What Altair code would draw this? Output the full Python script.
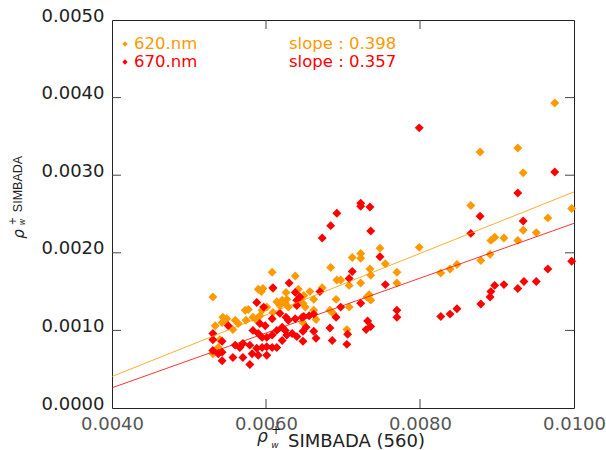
import altair as alt
import pandas as pd

# ---- data ----
orange_x = [0.00975, 0.00878, 0.00927, 0.00934, 0.00866, 0.00997, 0.00966, 0.00934, 0.00951, 0.00892,
            0.00897, 0.00909, 0.00927, 0.00891, 0.00879, 0.00848, 0.00839, 0.00827,
            0.00748, 0.00799, 0.00712, 0.00723, 0.00723, 0.00755, 0.00684, 0.00735, 0.00736, 0.00770,
            0.00692, 0.00697, 0.00723, 0.00708, 0.00770, 0.00673, 0.00657, 0.00649, 0.00662, 0.00691,
            0.00734, 0.00736, 0.00731, 0.00683, 0.00708, 0.00662, 0.00687, 0.00651, 0.00665, 0.00648,
            0.00705,
            0.00531, 0.00608, 0.00638, 0.00590, 0.00596, 0.00594, 0.00609, 0.00626, 0.00642, 0.00614,
            0.00621, 0.00627, 0.00618, 0.00625, 0.00629, 0.00609, 0.00601, 0.00595, 0.00592, 0.00583,
            0.00588, 0.00577, 0.00573, 0.00574, 0.00564, 0.00557, 0.00560, 0.00544, 0.00549, 0.00543,
            0.00534, 0.00538, 0.00531, 0.00540, 0.00644, 0.00648]
orange_y = [0.00393, 0.00330, 0.00335, 0.00303, 0.00261, 0.00257, 0.00245, 0.00229, 0.00226, 0.00216,
            0.00220, 0.00219, 0.00216, 0.00198, 0.00190, 0.00185, 0.00179, 0.00174,
            0.00206, 0.00207, 0.00194, 0.00199, 0.00193, 0.00186, 0.00181, 0.00179, 0.00171, 0.00175,
            0.00165, 0.00165, 0.00161, 0.00158, 0.00161, 0.00155, 0.00150, 0.00145, 0.00140, 0.00140,
            0.00146, 0.00139, 0.00143, 0.00126, 0.00130, 0.00126, 0.00122, 0.00130, 0.00114, 0.00110,
            0.00101,
            0.00143, 0.00175, 0.00170, 0.00153, 0.00154, 0.00150, 0.00154, 0.00149, 0.00153, 0.00137,
            0.00139, 0.00140, 0.00132, 0.00135, 0.00130, 0.00123, 0.00130, 0.00126, 0.00119, 0.00117,
            0.00113, 0.00127, 0.00126, 0.00113, 0.00109, 0.00101, 0.00113, 0.00117, 0.00115, 0.00110,
            0.00106, 0.00078, 0.00070, 0.00088, 0.00139, 0.00135]

red_x = [0.00975, 0.00927, 0.00878, 0.00866, 0.00934, 0.00997, 0.00966, 0.00951, 0.00935, 0.00909,
         0.00897, 0.00892, 0.00891, 0.00927, 0.00879, 0.00848, 0.00839, 0.00827, 0.00799,
         0.00723, 0.00723, 0.00735, 0.00692, 0.00684, 0.00736, 0.00673, 0.00748, 0.00712, 0.00708,
         0.00755, 0.00670, 0.00723, 0.00697, 0.00770, 0.00770, 0.00691, 0.00662, 0.00656, 0.00649,
         0.00732, 0.00736, 0.00730, 0.00683, 0.00706, 0.00662, 0.00648, 0.00652, 0.00665, 0.00686,
         0.00648, 0.00705,
         0.00630, 0.00638, 0.00644, 0.00640, 0.00640, 0.00588, 0.00597, 0.00618, 0.00626, 0.00629,
         0.00638, 0.00647, 0.00608, 0.00592, 0.00599, 0.00583, 0.00590, 0.00595, 0.00601, 0.00608,
         0.00614, 0.00621, 0.00625, 0.00627, 0.00621, 0.00634, 0.00640, 0.00614, 0.00608, 0.00601,
         0.00595, 0.00588, 0.00579, 0.00570, 0.00566, 0.00560, 0.00557, 0.00570, 0.00582, 0.00590,
         0.00601, 0.00579, 0.00543, 0.00543, 0.00531, 0.00531, 0.00531, 0.00551, 0.00538, 0.00543,
         0.00609]
red_y = [0.00304, 0.00277, 0.00247, 0.00225, 0.00241, 0.00189, 0.00179, 0.00163, 0.00163, 0.00159,
         0.00158, 0.00150, 0.00143, 0.00154, 0.00134, 0.00128, 0.00121, 0.00118, 0.00361,
         0.00264, 0.00260, 0.00259, 0.00251, 0.00235, 0.00228, 0.00219, 0.00195, 0.00176, 0.00167,
         0.00159, 0.00150, 0.00135, 0.00130, 0.00126, 0.00117, 0.00117, 0.00121, 0.00119, 0.00118,
         0.00112, 0.00105, 0.00101, 0.00103, 0.00095, 0.00099, 0.00099, 0.00104, 0.00090, 0.00087,
         0.00086, 0.00082,
         0.00161, 0.00149, 0.00143, 0.00139, 0.00132, 0.00136, 0.00130, 0.00122, 0.00117, 0.00113,
         0.00115, 0.00117, 0.00115, 0.00109, 0.00106, 0.00100, 0.00096, 0.00091, 0.00091, 0.00094,
         0.00100, 0.00104, 0.00100, 0.00094, 0.00087, 0.00096, 0.00092, 0.00078, 0.00078, 0.00079,
         0.00078, 0.00077, 0.00081, 0.00083, 0.00078, 0.00081, 0.00065, 0.00065, 0.00070, 0.00068,
         0.00068, 0.00056, 0.00061, 0.00072, 0.00074, 0.00096, 0.00088, 0.00106, 0.00070, 0.00086,
         0.00155]

fit_x = [0.0040, 0.0100]
orange_fit_y = [0.000406, 0.002785]
red_fit_y = [0.000260, 0.002380]

series_names = ["620.nm", "670.nm"]
slope_texts = ["slope : 0.398", "slope : 0.357"]
series_colors = ["#ff9900", "#ff0000"]

x_tick_values = [0.0040, 0.0060, 0.0080, 0.0100]
y_tick_values = [0.0000, 0.0010, 0.0020, 0.0030, 0.0040, 0.0050]
inner_x_ticks = [0.0060, 0.0080]
inner_y_ticks = [0.0010, 0.0020, 0.0030, 0.0040]

# ---- tables ----
pts = pd.concat([
    pd.DataFrame({"x": orange_x, "y": orange_y, "series": series_names[0], "order": 0}),
    pd.DataFrame({"x": red_x, "y": red_y, "series": series_names[1], "order": 1}),
], ignore_index=True)

fits = pd.concat([
    pd.DataFrame({"x": fit_x, "y": orange_fit_y, "series": series_names[0]}),
    pd.DataFrame({"x": fit_x, "y": red_fit_y, "series": series_names[1]}),
], ignore_index=True)

W, H = 462, 388
FONT = "DejaVu Sans"

xs = alt.Scale(domain=[0.004, 0.010], nice=False, zero=False)
ys = alt.Scale(domain=[0.0, 0.005], nice=False, zero=False)
cs = alt.Scale(domain=series_names, range=series_colors)

points = alt.Chart(pts).mark_point(shape="diamond", filled=True, size=80, opacity=1).encode(
    x=alt.X("x:Q", scale=xs, axis=alt.Axis(
        values=x_tick_values, format=".4f", title=None, ticks=False, domain=False, grid=False,
        labelFontSize=18, labelColor="#555555", labelFont=FONT, labelPadding=7,
        labelFlush=False, labelOverlap=False)),
    y=alt.Y("y:Q", scale=ys, axis=alt.Axis(
        values=y_tick_values, format=".4f", title=None, ticks=False, domain=False, grid=False,
        labelFontSize=18, labelColor="#222222", labelFont=FONT, labelPadding=8, labelOffset=-4,
        labelFlush=False, labelOverlap=False)),
    color=alt.Color("series:N", scale=cs, legend=None),
    order=alt.Order("order:Q"),
)

lines = alt.Chart(fits).mark_line(strokeWidth=1, opacity=0.8, clip=True).encode(
    x=alt.X("x:Q", scale=xs),
    y=alt.Y("y:Q", scale=ys),
    color=alt.Color("series:N", scale=cs, legend=None),
    detail="series:N",
)

tick_col = "#444444"
xt = pd.DataFrame({"x": inner_x_ticks})
yt = pd.DataFrame({"y": inner_y_ticks})
ticks_bottom = alt.Chart(xt).mark_rule(color=tick_col).encode(
    x=alt.X("x:Q", scale=xs), y=alt.value(H), y2=alt.value(H - 9))
ticks_top = alt.Chart(xt).mark_rule(color=tick_col).encode(
    x=alt.X("x:Q", scale=xs), y=alt.value(0), y2=alt.value(9))
ticks_left = alt.Chart(yt).mark_rule(color=tick_col).encode(
    y=alt.Y("y:Q", scale=ys), x=alt.value(0), x2=alt.value(9))
ticks_right = alt.Chart(yt).mark_rule(color=tick_col).encode(
    y=alt.Y("y:Q", scale=ys), x=alt.value(W), x2=alt.value(W - 9))

one = pd.DataFrame({"k": [0]})

def txt(s, x, y, size, color="#222222", angle=0, align="left", baseline="alphabetic",
        style="normal", font=FONT):
    return alt.Chart(one).mark_text(
        text=s, fontSize=size, color=color, angle=angle, align=align, baseline=baseline,
        fontStyle=style, font=font
    ).encode(x=alt.value(x), y=alt.value(y))

legend_layers = []
for i, (nm, sl, col) in enumerate(zip(series_names, slope_texts, series_colors)):
    yy = 24 + 18 * i
    legend_layers.append(
        alt.Chart(one).mark_point(shape="diamond", filled=True, size=28, color=col, opacity=1)
        .encode(x=alt.value(13), y=alt.value(yy)))
    legend_layers.append(txt(nm, 22, yy, 16.5, color=col, baseline="middle"))
    legend_layers.append(txt(sl, 177, yy, 16.5, color=col, baseline="middle"))

# x-axis title: rho (+ superscript, w subscript) SIMBADA (560)
xtitle = [
    txt("ρ", 145, 422, 17, style="italic"),
    txt("+", 164, 410, 12, align="center", baseline="middle", color="#111111"),
    txt("w", 163, 425, 9, align="center", baseline="middle", style="italic"),
    txt("SIMBADA (560)", 176, 427, 18),
]
# y-axis title (rotated, reads upward)
ytitle = [
    txt("SIMBADA", -94, 164, 12.5, angle=270, align="center", baseline="middle",
        font="Liberation Sans"),
    txt("ρ", -93, 214, 15, angle=270, align="center", baseline="middle", style="italic"),
    txt("+", -99, 201, 10, angle=270, align="center", baseline="middle"),
    txt("w", -89, 202, 8, angle=270, align="center", baseline="middle", style="italic"),
]

chart = alt.layer(
    points, lines, ticks_bottom, ticks_top, ticks_left, ticks_right,
    *legend_layers, *xtitle, *ytitle
).properties(
    width=W, height=H,
    autosize=alt.AutoSizeParams(type="none"),
    padding={"left": 112, "top": 20, "right": 32, "bottom": 42},
    background="white",
).configure_view(stroke="#222222", strokeWidth=1)

chart.save("out.html", embed_options={"renderer": "svg", "actions": False})
